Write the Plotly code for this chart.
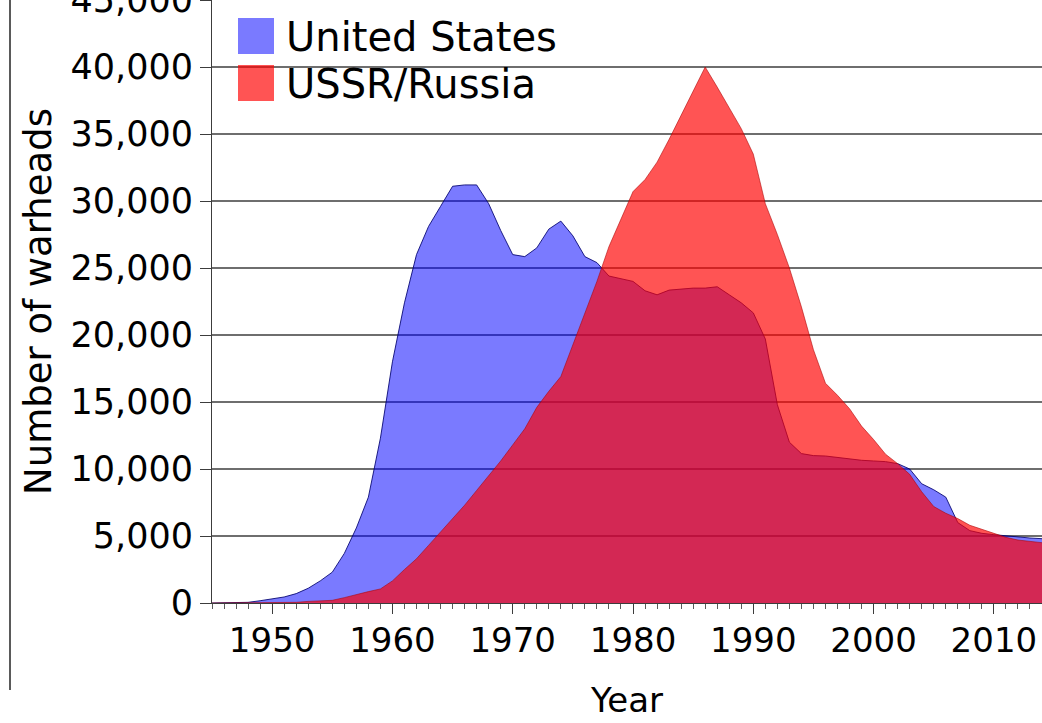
import plotly.graph_objects as go

years = list(range(1945, 2015))

us_warheads = [
    2, 9, 13, 50, 170, 300, 450, 700, 1100, 1650,           # 1945-1954
    2300, 3700, 5600, 7900, 12300, 18000, 22400, 26000, 28100, 29600,  # 1955-1964
    31100, 31200, 31200, 29800, 27800, 26000, 25850, 26500, 27900, 28500,  # 1965-1974
    27400, 25850, 25400, 24400, 24200, 24000, 23300, 23000, 23350, 23450,  # 1975-1984
    23500, 23500, 23600, 23000, 22400, 21650, 19700, 14800, 12000, 11150,  # 1985-1994
    11000, 10970, 10850, 10750, 10650, 10600, 10550, 10400, 10000, 8900,   # 1995-2004
    8450, 7900, 6000, 5400, 5200, 5100, 5000, 4900, 4850, 4800,            # 2005-2014
]

ussr_warheads = [
    0, 0, 0, 0, 1, 5, 25, 50, 120, 150,                      # 1945-1954
    200, 400, 650, 850, 1050, 1650, 2500, 3300, 4300, 5300,  # 1955-1964
    6300, 7300, 8400, 9500, 10600, 11800, 13000, 14600, 15800, 16900,  # 1965-1974
    19300, 21700, 24000, 26600, 28700, 30700, 31600, 32900, 34600, 36400,  # 1975-1984
    38300, 40000, 38500, 37000, 35400, 33500, 29800, 27500, 25000, 22100,  # 1985-1994
    18900, 16400, 15500, 14500, 13200, 12200, 11100, 10400, 9600, 8300,   # 1995-2004
    7200, 6700, 6300, 5800, 5500, 5200, 4900, 4700, 4600, 4500,           # 2005-2014
]

series_names = ["United States", "USSR/Russia"]
fill_colors = ["rgba(0,0,255,0.52)", "rgba(255,0,0,0.67)"]
line_colors = ["rgba(0,0,110,0.85)", "rgba(170,0,0,0.55)"]
y_ticks = list(range(0, 45001, 5000))

FONT = "DejaVu Sans"

fig = go.Figure()
for name, vals, fc, lc in zip(series_names, [us_warheads, ussr_warheads], fill_colors, line_colors):
    fig.add_trace(go.Scatter(
        x=years, y=vals, name=name, mode="lines", fill="tozeroy",
        fillcolor=fc, line=dict(color=lc, width=1), showlegend=False,
    ))

W, H = 1042, 723
L, R, T, B = 212, 0, 0, 120
pw, ph = W - L - R, H - T - B

def px_x(px):
    return (px - L) / pw

def px_y(py):
    return (H - B - py) / ph

shapes = []
# legend background
shapes.append(dict(type="rect", xref="paper", yref="paper",
                   x0=px_x(213), x1=px_x(652), y0=px_y(106), y1=px_y(-2),
                   fillcolor="white", line=dict(width=0), layer="between"))
annotations = []
for i, (name, fc) in enumerate(zip(series_names, fill_colors)):
    cy = 36 + i * 47
    shapes.append(dict(type="rect", xref="paper", yref="paper",
                       x0=px_x(238), x1=px_x(274), y0=px_y(cy + 18), y1=px_y(cy - 18),
                       fillcolor=fc, line=dict(width=0), layer="above"))
    annotations.append(dict(xref="paper", yref="paper", x=px_x(284), y=px_y(cy + 1),
                            text=name, showarrow=False, xanchor="left", yanchor="middle",
                            font=dict(family=FONT, size=40, color="black")))
# left frame line of the image
shapes.append(dict(type="line", xref="paper", yref="paper",
                   x0=px_x(10), x1=px_x(10), y0=px_y(-5), y1=px_y(690),
                   line=dict(color="rgb(90,90,90)", width=2), layer="above"))

fig.update_layout(
    width=W, height=H,
    margin=dict(l=L, r=R, t=T, b=B, pad=0, autoexpand=False),
    paper_bgcolor="white", plot_bgcolor="white",
    font=dict(family=FONT, size=34, color="black"),
    shapes=shapes, annotations=annotations,
    showlegend=False,
)
fig.update_xaxes(
    range=[1945, 2014], tick0=1950, dtick=10, ticks="outside", ticklen=10,
    tickwidth=1, tickcolor="rgb(60,60,60)", showgrid=False, zeroline=False,
    showline=True, linecolor="rgb(60,60,60)", linewidth=1, automargin=False,
    ticklabeloverflow="allow", ticklabelstandoff=-3,
    tickfont=dict(family=FONT, size=34),
    minor=dict(dtick=1, tick0=1945, ticks="outside", ticklen=5, tickcolor="rgb(90,90,90)", tickwidth=1),
    title=dict(text="Year", font=dict(family=FONT, size=34), standoff=29),
)
fig.update_yaxes(
    range=[0, 45000], tickvals=y_ticks, tickformat=",d", ticks="outside", ticklen=11,
    tickwidth=1, tickcolor="rgb(60,60,60)", showgrid=True, gridcolor="rgb(110,110,110)",
    gridwidth=2, zeroline=False, showline=True, linecolor="rgb(60,60,60)", linewidth=1,
    automargin=False, ticklabeloverflow="allow",
    tickfont=dict(family=FONT, size=35),
    title=dict(text="Number of warheads", font=dict(family=FONT, size=37), standoff=7),
)

fig.write_html("out.html", config={"displayModeBar": False},
               post_script="document.body.style.margin='0';")
